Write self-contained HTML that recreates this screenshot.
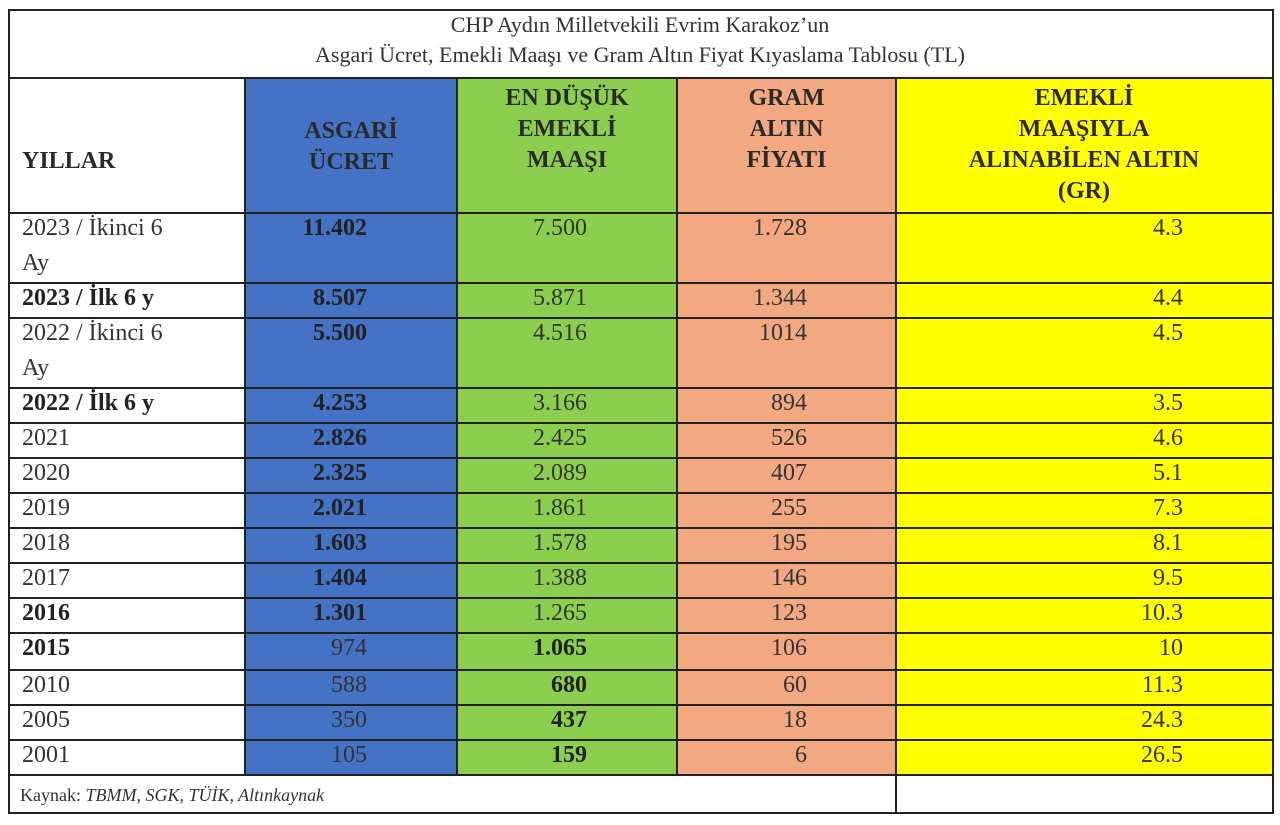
<!DOCTYPE html>
<html><head><meta charset="utf-8"><style>
body{margin:0;width:1280px;height:825px;background:#fff;position:relative;overflow:hidden;font-family:"Liberation Serif","Times New Roman","DejaVu Serif",serif;color:#333}
.a{position:absolute}
.c{position:absolute;font-size:24px;line-height:35px;white-space:nowrap}
.h{position:absolute;font-weight:bold;font-size:24px;line-height:31px;text-align:center;color:#2a2a2a}
.hl{position:absolute;left:8px;width:1264px;height:2px;background:#222}
.vl{position:absolute;width:2px;background:#222}
</style></head><body>
<div class="a" style="left:245px;top:78px;width:212px;height:697px;background:#4472c4"></div>
<div class="a" style="left:457px;top:78px;width:220px;height:697px;background:#8ccf4e"></div>
<div class="a" style="left:677px;top:78px;width:219px;height:697px;background:#f2a982"></div>
<div class="a" style="left:896px;top:78px;width:376px;height:697px;background:#ffff00"></div>
<div class="a" style="left:8px;top:9px;width:1262px;height:801px;border:2px solid #222"></div>
<div class="hl" style="top:77px"></div>
<div class="hl" style="top:212px"></div>
<div class="hl" style="top:282px"></div><div class="hl" style="top:317px"></div><div class="hl" style="top:387px"></div>
<div class="hl" style="top:422px"></div><div class="hl" style="top:457px"></div><div class="hl" style="top:492px"></div>
<div class="hl" style="top:527px"></div><div class="hl" style="top:562px"></div><div class="hl" style="top:597px"></div>
<div class="hl" style="top:632px"></div><div class="hl" style="top:669px"></div><div class="hl" style="top:704px"></div>
<div class="hl" style="top:739px"></div><div class="hl" style="top:774px"></div>
<div class="vl" style="left:244px;top:78px;height:697px"></div>
<div class="vl" style="left:456px;top:78px;height:697px"></div>
<div class="vl" style="left:676px;top:78px;height:697px"></div>
<div class="vl" style="left:895px;top:78px;height:734px"></div>
<div class="a" style="left:8px;top:10px;width:1264px;text-align:center;font-size:22px;line-height:30px;color:#333">CHP Aydın Milletvekili Evrim Karakoz’un<br>Asgari Ücret, Emekli Maaşı ve Gram Altın Fiyat Kıyaslama Tablosu (TL)</div>
<div class="h" style="left:22px;top:146px;text-align:left">YILLAR</div>
<div class="h" style="left:245px;top:116px;width:212px">ASGARİ<br>ÜCRET</div>
<div class="h" style="left:457px;top:83px;width:220px">EN DÜŞÜK<br>EMEKLİ<br>MAAŞI</div>
<div class="h" style="left:677px;top:83px;width:219px">GRAM<br>ALTIN<br>FİYATI</div>
<div class="h" style="left:896px;top:83px;width:376px">EMEKLİ<br>MAAŞIYLA<br>ALINABİLEN ALTIN<br>(GR)</div>
<div id="rows"></div>
<div class="a" style="left:20px;top:785px;font-size:18px;color:#333">Kaynak: <i>TBMM, SGK, TÜİK, Altınkaynak</i></div>
<script>
var d=[
[213,"2023 / İkinci 6<br>Ay",0,"11.402","7.500",0,"1.728","4.3"],
[283,"2023 / İlk 6 y",1,"8.507","5.871",0,"1.344","4.4"],
[318,"2022 / İkinci 6<br>Ay",0,"5.500","4.516",0,"1014","4.5"],
[388,"2022 / İlk 6 y",1,"4.253","3.166",0,"894","3.5"],
[423,"2021",0,"2.826","2.425",0,"526","4.6"],
[458,"2020",0,"2.325","2.089",0,"407","5.1"],
[493,"2019",0,"2.021","1.861",0,"255","7.3"],
[528,"2018",0,"1.603","1.578",0,"195","8.1"],
[563,"2017",0,"1.404","1.388",0,"146","9.5"],
[598,"2016",1,"1.301","1.265",0,"123","10.3"],
[633,"2015",1,"974","1.065",1,"106","10"],
[670,"2010",0,"588","680",1,"60","11.3"],
[705,"2005",0,"350","437",1,"18","24.3"],
[740,"2001",0,"105","159",1,"6","26.5"]];
var h="";
d.forEach(function(r,i){var t=r[0]-2;var ab=i<10;
h+='<div class="c" style="left:22px;top:'+t+'px;'+(r[2]?'font-weight:bold;color:#222':'')+'">'+r[1]+'</div>';
h+='<div class="c" style="right:'+(1280-367)+'px;top:'+t+'px;'+(ab?'font-weight:bold;color:#222':'')+'">'+r[3]+'</div>';
h+='<div class="c" style="right:'+(1280-587)+'px;top:'+t+'px;'+(r[5]?'font-weight:bold;color:#222':'')+'">'+r[4]+'</div>';
h+='<div class="c" style="right:'+(1280-807)+'px;top:'+t+'px">'+r[6]+'</div>';
h+='<div class="c" style="right:'+(1280-1183)+'px;top:'+t+'px">'+r[7]+'</div>';});
document.getElementById("rows").innerHTML=h;
</script>
</body></html>
